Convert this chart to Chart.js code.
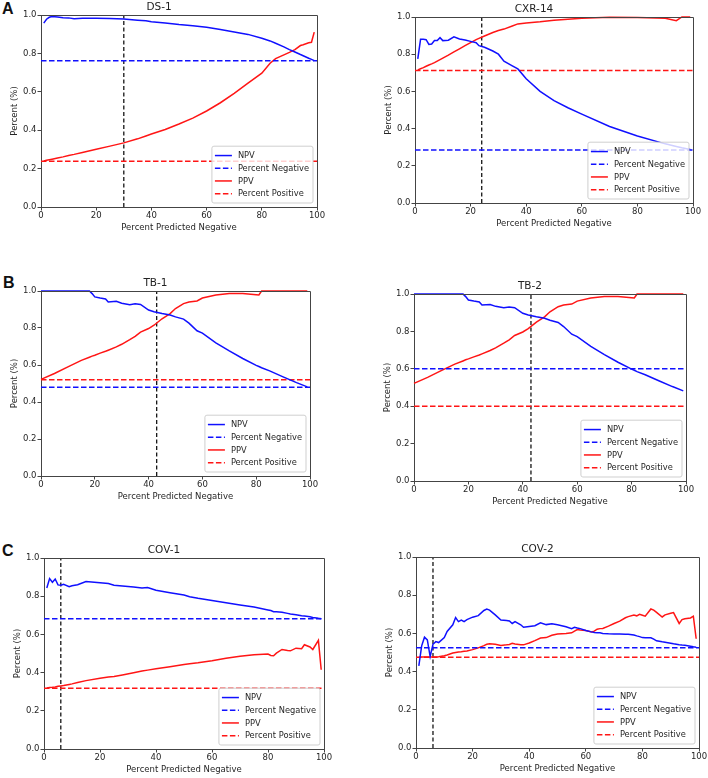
<!DOCTYPE html>
<html>
<head>
<meta charset="utf-8">
<script src="https://cdn.jsdelivr.net/npm/chart.js@4.4.1/dist/chart.umd.min.js"></script>
<style>
  body { margin: 0; background: #fff; }
  #fig { position: relative; width: 708px; height: 778px; overflow: hidden; }
  #fig canvas { position: absolute; }
  .tag { position: absolute; font: bold 16px "Liberation Sans", Arial, sans-serif; line-height: 16px; color: #111; }
</style>
</head>
<body>
<div id="fig">
  <div class="tag" style="left:2px;top:1px">A</div>
  <div class="tag" style="left:3px;top:275px">B</div>
  <div class="tag" style="left:2px;top:543px">C</div>
</div>
<script>
// panel titles, cutoff (vertical line), baseline rates
const titles = ['DS-1', 'CXR-14', 'TB-1', 'TB-2', 'COV-1', 'COV-2'];
const cutoffs = [30, 24, 43, 43, 6, 6];
const negRate = [0.762, 0.285, 0.48, 0.60, 0.682, 0.525];
const posRate = [0.238, 0.713, 0.52, 0.40, 0.318, 0.475];

// DS-1
const ds1X = [1,2,3,4,6,8,10,12,15,20,25,30,35,38,40,45,50,55,60,65,70,75,80,83,85,88,90,92,94,95,97,98,99];
const ds1Npv = [0.958,0.978,0.988,0.992,0.990,0.986,0.985,0.981,0.983,0.983,0.982,0.979,0.973,0.970,0.965,0.958,0.950,0.944,0.936,0.925,0.912,0.899,0.879,0.865,0.853,0.834,0.820,0.807,0.794,0.788,0.775,0.769,0.762];
const ds1Ppv = [0.240,0.243,0.246,0.249,0.255,0.261,0.268,0.274,0.284,0.301,0.317,0.334,0.355,0.370,0.380,0.404,0.432,0.463,0.500,0.543,0.592,0.645,0.697,0.749,0.773,0.792,0.805,0.820,0.841,0.845,0.855,0.858,0.911];

// CXR-14
const cxrX = [1,2,3,4,5,6,7,8,9,10,12,14,16,18,20,22,23,25,28,30,32,35,37,40,45,50,55,60,70,80,90,94,96,99];
const cxrNpv = [0.775,0.880,0.880,0.878,0.853,0.855,0.873,0.873,0.889,0.873,0.875,0.893,0.882,0.876,0.869,0.862,0.846,0.837,0.817,0.800,0.762,0.737,0.721,0.668,0.600,0.550,0.512,0.478,0.411,0.360,0.318,0.304,0.297,0.288];
const cxrPpv = [0.716,0.722,0.728,0.735,0.742,0.748,0.755,0.763,0.771,0.779,0.795,0.812,0.829,0.846,0.862,0.878,0.885,0.898,0.917,0.927,0.935,0.952,0.963,0.968,0.974,0.982,0.988,0.993,0.998,0.997,0.993,0.980,1.000,1.000];

// TB-1 / TB-2 (same curves)
const tbX = [0,5,10,15,18,19,20,22,24,25,28,30,33,35,37,40,42,45,48,50,53,55,58,60,65,70,75,80,81,82,85,90,95,99];
const tbNpv = [1,1,1,1,1,0.986,0.968,0.962,0.957,0.941,0.944,0.934,0.926,0.931,0.927,0.897,0.888,0.878,0.870,0.860,0.848,0.826,0.785,0.772,0.720,0.676,0.635,0.598,0.592,0.585,0.568,0.536,0.505,0.482];
const tbPpv = [0.522,0.554,0.590,0.625,0.642,0.648,0.653,0.664,0.674,0.680,0.698,0.712,0.737,0.755,0.778,0.797,0.815,0.850,0.878,0.905,0.932,0.941,0.946,0.962,0.978,0.987,0.986,0.980,0.979,1,1,1,1,1];

// COV-1
const cov1X = [1,2,3,4,5,6,7,9,10,12,15,20,23,25,28,32,35,37,40,45,50,52,55,60,65,70,75,80,81,82,83,85,87,88,90,92,93,95,96,98,99];
const cov1Npv = [0.843,0.892,0.873,0.890,0.859,0.857,0.862,0.850,0.855,0.860,0.877,0.871,0.866,0.857,0.853,0.848,0.843,0.845,0.831,0.818,0.806,0.797,0.789,0.778,0.766,0.754,0.743,0.728,0.725,0.719,0.718,0.716,0.710,0.707,0.703,0.698,0.696,0.692,0.689,0.684,0.682];
const cov1Ppv = [0.320,0.322,0.323,0.325,0.328,0.330,0.332,0.338,0.341,0.348,0.358,0.371,0.377,0.380,0.388,0.399,0.408,0.413,0.420,0.431,0.443,0.446,0.451,0.462,0.475,0.485,0.494,0.497,0.490,0.488,0.502,0.521,0.516,0.514,0.528,0.525,0.546,0.534,0.521,0.569,0.415];

// COV-2
const cov2X = [1,2,3,4,5,6,7,8,10,11,13,14,15,16,17,18,20,22,24,25,26,28,30,32,33,34,35,37,38,40,42,44,46,48,50,53,55,56,57,58,60,62,63,64,65,66,68,70,72,74,75,77,78,79,80,81,83,84,85,87,88,90,91,93,94,95,97,98,99];
const cov2Npv = [0.430,0.535,0.580,0.566,0.479,0.543,0.557,0.552,0.578,0.610,0.645,0.683,0.662,0.670,0.662,0.672,0.685,0.693,0.720,0.727,0.722,0.697,0.670,0.668,0.665,0.652,0.662,0.645,0.632,0.636,0.640,0.655,0.646,0.650,0.645,0.635,0.625,0.632,0.628,0.625,0.615,0.608,0.605,0.604,0.603,0.600,0.598,0.597,0.597,0.596,0.596,0.592,0.587,0.583,0.578,0.577,0.577,0.570,0.561,0.556,0.554,0.549,0.546,0.541,0.539,0.538,0.533,0.530,0.528];
const cov2Ppv = [0.475,0.476,0.476,0.476,0.477,0.477,0.477,0.478,0.483,0.487,0.497,0.500,0.503,0.504,0.506,0.508,0.515,0.524,0.536,0.543,0.546,0.543,0.537,0.540,0.542,0.548,0.545,0.541,0.540,0.550,0.562,0.576,0.578,0.590,0.597,0.600,0.603,0.612,0.620,0.618,0.615,0.608,0.612,0.622,0.625,0.626,0.638,0.652,0.664,0.682,0.688,0.696,0.692,0.700,0.695,0.690,0.728,0.722,0.710,0.686,0.697,0.705,0.709,0.652,0.672,0.677,0.681,0.690,0.572];

const xTicks = [0, 20, 40, 60, 80, 100];
const yTicks = [0, 0.2, 0.4, 0.6, 0.8, 1.0];

const curves = [
  [ds1X, ds1Npv, ds1Ppv],
  [cxrX, cxrNpv, cxrPpv],
  [tbX, tbNpv, tbPpv],
  [tbX, tbNpv, tbPpv],
  [cov1X, cov1Npv, cov1Ppv],
  [cov2X, cov2Npv, cov2Ppv]
];

// plot area boxes in the figure: left, top, right, bottom
const boxes = [
  [41, 15, 317, 207],
  [415, 17, 693, 203],
  [41, 291, 310, 476],
  [414, 294, 686, 481],
  [44, 558, 324, 749],
  [416, 557, 699, 748]
];

const FONT = '"DejaVu Sans", sans-serif';
const BLUE = '#1010ff';
const RED = '#ff1515';
const AXIS = '#444';

const framePlugin = {
  id: 'frameAndLegend',
  afterDraw(chart) {
    const { ctx, chartArea: a } = chart;
    ctx.save();
    // top and right spines
    ctx.strokeStyle = AXIS;
    ctx.lineWidth = 1;
    ctx.beginPath();
    ctx.moveTo(Math.round(a.left), Math.round(a.top) + 0.5);
    ctx.lineTo(Math.round(a.right) + 0.5, Math.round(a.top) + 0.5);
    ctx.lineTo(Math.round(a.right) + 0.5, Math.round(a.bottom));
    ctx.stroke();

    // legend, lower right inside the axes
    const items = chart.data.datasets.filter(d => d.inLegend);
    ctx.font = '8.3px ' + FONT;
    const textW = Math.max(...items.map(d => ctx.measureText(d.label).width));
    const rowH = 12.7;
    const w = 3 + 17 + 6 + textW + 4;
    const h = items.length * rowH + 6;
    const x0 = a.right - 4 - w;
    const y0 = a.bottom - 4 - h;
    ctx.beginPath();
    ctx.roundRect(x0, y0, w, h, 2);
    ctx.fillStyle = 'rgba(255,255,255,0.8)';
    ctx.fill();
    ctx.strokeStyle = '#cfcfcf';
    ctx.stroke();
    items.forEach((d, i) => {
      const cy = y0 + 3 + rowH * (i + 0.5);
      ctx.strokeStyle = d.borderColor;
      ctx.lineWidth = 1.5;
      ctx.setLineDash(d.borderDash || []);
      ctx.beginPath();
      ctx.moveTo(x0 + 3, cy);
      ctx.lineTo(x0 + 20, cy);
      ctx.stroke();
      ctx.setLineDash([]);
      ctx.fillStyle = '#262626';
      ctx.textBaseline = 'middle';
      ctx.fillText(d.label, x0 + 26, cy + 0.5);
    });
    ctx.restore();
  }
};

const fig = document.getElementById('fig');

titles.forEach((title, i) => {
  const [L, T, R, B] = boxes[i];
  const [xs, npv, ppv] = curves[i];
  const canvas = document.createElement('canvas');
  canvas.width = R - L + 50;
  canvas.height = B - T + 44;
  canvas.style.left = (L - 40) + 'px';
  canvas.style.top = (T - 14) + 'px';
  fig.appendChild(canvas);

  const line = (label, data, color, dash, legend, width) => ({
    label: label,
    data: data,
    borderColor: color,
    borderWidth: width || 1.5,
    borderDash: dash,
    pointRadius: 0,
    fill: false,
    tension: 0,
    clip: false,
    inLegend: legend
  });

  new Chart(canvas.getContext('2d'), {
    type: 'line',
    data: {
      datasets: [
        line('NPV', xs.map((x, k) => ({ x: x, y: npv[k] })), BLUE, [], true),
        line('Percent Negative', [{ x: 0, y: negRate[i] }, { x: 100, y: negRate[i] }], BLUE, [5.5, 2.5], true),
        line('PPV', xs.map((x, k) => ({ x: x, y: ppv[k] })), RED, [], true),
        line('Percent Positive', [{ x: 0, y: posRate[i] }, { x: 100, y: posRate[i] }], RED, [5.5, 2.5], true),
        line('cutoff', [{ x: cutoffs[i], y: 0 }, { x: cutoffs[i], y: 1 }], '#151515', [4, 2.5], false, 1.3)
      ]
    },
    options: {
      responsive: false,
      animation: false,
      devicePixelRatio: 1,
      layout: { padding: { left: 0, right: 10, top: 0, bottom: 0 } },
      plugins: {
        legend: { display: false },
        tooltip: { enabled: false },
        title: {
          display: true,
          text: title,
          color: '#222',
          font: { family: FONT, size: 10.5, weight: 'normal', lineHeight: '12px' },
          padding: { top: 0, bottom: 2 }
        }
      },
      scales: {
        x: {
          type: 'linear',
          min: 0,
          max: 100,
          afterFit: s => { s.height = 30; },
          afterBuildTicks: s => { s.ticks = xTicks.map(v => ({ value: v })); },
          ticks: { color: '#262626', font: { family: FONT, size: 8.5 }, padding: 0, maxRotation: 0 },
          grid: { drawOnChartArea: false, drawTicks: true, tickLength: 3.5, color: AXIS },
          border: { display: true, color: AXIS },
          title: {
            display: true,
            text: 'Percent Predicted Negative',
            color: '#262626',
            font: { family: FONT, size: 8.5, lineHeight: '10px' },
            padding: { top: 0, bottom: 4 }
          }
        },
        y: {
          min: 0,
          max: 1,
          afterFit: s => { s.width = 40; },
          afterBuildTicks: s => { s.ticks = yTicks.map(v => ({ value: v })); },
          ticks: { color: '#262626', font: { family: FONT, size: 8.5 }, padding: 1, callback: v => v.toFixed(1) },
          grid: { drawOnChartArea: false, drawTicks: true, tickLength: 3.5, color: AXIS },
          border: { display: true, color: AXIS },
          title: {
            display: true,
            text: 'Percent (%)',
            color: '#262626',
            font: { family: FONT, size: 8.5, lineHeight: '10px' },
            padding: { top: 9, bottom: 0 }
          }
        }
      }
    },
    plugins: [framePlugin]
  });
});
</script>
</body>
</html>
